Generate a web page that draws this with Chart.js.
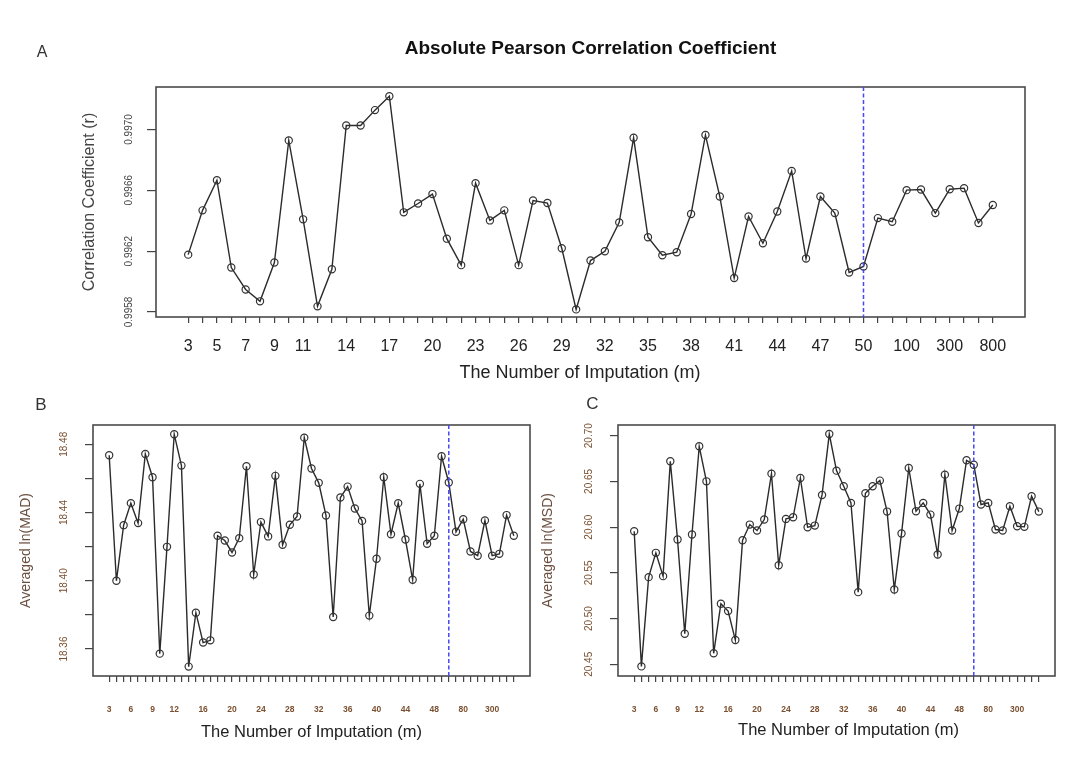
<!DOCTYPE html>
<html>
<head>
<meta charset="utf-8">
<script src="https://cdn.jsdelivr.net/npm/chart.js@4.4.0/dist/chart.umd.min.js"></script>
<style>
  body { margin: 0; background: #fff; }
  #wrap { position: relative; width: 1091px; height: 781px; overflow: hidden; }
  canvas { position: absolute; }
</style>
</head>
<body>
<div id="wrap">
  <canvas id="chartA" width="1091" height="390" style="left:0;top:0"></canvas>
  <canvas id="chartB" width="545" height="401" style="left:0;top:380px"></canvas>
  <canvas id="chartC" width="561" height="401" style="left:530px;top:380px"></canvas>
</div>
<script>
// number of imputations (x categories)
const mValues = [3, 4, 5, 6, 7, 8, 9, 10, 11, 12, 13, 14, 15, 16, 17, 18, 19, 20, 21, 22,
  23, 24, 25, 26, 27, 28, 29, 30, 31, 32, 33, 34, 35, 36, 37, 38, 39, 40, 41, 42,
  43, 44, 45, 46, 47, 48, 49, 50, 60, 80, 100, 150, 200, 300, 400, 500, 800];
const cutoffM = 50;

// x labels R kept on each axis
const xLabelsA = [3, 5, 7, 9, 11, 14, 17, 20, 23, 26, 29, 32, 35, 38, 41, 44, 47, 50, 100, 300, 800];
const xLabelsBC = [3, 6, 9, 12, 16, 20, 24, 28, 32, 36, 40, 44, 48, 80, 300];

// A: absolute Pearson correlation
const corrA = [0.996177, 0.996468, 0.996666, 0.996092, 0.995948, 0.995870, 0.996125, 0.996928, 0.996409, 0.995837,
  0.996081, 0.997026, 0.997026, 0.997127, 0.997218, 0.996455, 0.996513, 0.996575, 0.996282, 0.996108,
  0.996647, 0.996402, 0.996468, 0.996108, 0.996533, 0.996516, 0.996219, 0.995817, 0.996138, 0.996199,
  0.996389, 0.996945, 0.996291, 0.996173, 0.996193, 0.996444, 0.996963, 0.996559, 0.996023, 0.996428,
  0.996252, 0.996461, 0.996727, 0.996151, 0.996559, 0.996450, 0.996060, 0.996099, 0.996417, 0.996393,
  0.996601, 0.996605, 0.996450, 0.996607, 0.996614, 0.996385, 0.996503];

// B: averaged ln(MAD)
const madB = [18.4736, 18.4000, 18.4326, 18.4455, 18.4338, 18.4743, 18.4607, 18.3573, 18.4199, 18.4859,
  18.4675, 18.3497, 18.3813, 18.3638, 18.3651, 18.4264, 18.4236, 18.4166, 18.4250, 18.4671,
  18.4037, 18.4344, 18.4260, 18.4615, 18.4211, 18.4328, 18.4377, 18.4839, 18.4658, 18.4574,
  18.4383, 18.3788, 18.4488, 18.4552, 18.4424, 18.4351, 18.3796, 18.4129, 18.4607, 18.4273,
  18.4455, 18.4242, 18.4006, 18.4568, 18.4217, 18.4264, 18.4730, 18.4576, 18.4287, 18.4361,
  18.4172, 18.4147, 18.4353, 18.4147, 18.4158, 18.4385, 18.4264];

// C: averaged ln(MSD)
const msdC = [20.5955, 20.4477, 20.5453, 20.5719, 20.5464, 20.6720, 20.5864, 20.4834, 20.5919, 20.6884,
  20.6501, 20.4620, 20.5162, 20.5082, 20.4765, 20.5857, 20.6028, 20.5963, 20.6083, 20.6585,
  20.5584, 20.6090, 20.6108, 20.6538, 20.5999, 20.6017, 20.6352, 20.7018, 20.6618, 20.6447,
  20.6265, 20.5289, 20.6370, 20.6447, 20.6509, 20.6170, 20.5318, 20.5930, 20.6647, 20.6174,
  20.6265, 20.6137, 20.5700, 20.6574, 20.5963, 20.6203, 20.6731, 20.6683, 20.6247, 20.6265,
  20.5974, 20.5963, 20.6228, 20.6010, 20.6003, 20.6338, 20.6170];

// y ticks and the ones that get a label
const yTicksA = [0.9958, 0.9960, 0.9962, 0.9964, 0.9966, 0.9968, 0.9970, 0.9972];
const yLabelsA = [0.9958, 0.9962, 0.9966, 0.9970];
const yTicksB = [18.36, 18.38, 18.40, 18.42, 18.44, 18.46, 18.48];
const yLabelsB = [18.36, 18.40, 18.44, 18.48];
const yTicksC = [20.45, 20.50, 20.55, 20.60, 20.65, 20.70];
const yLabelsC = [20.45, 20.50, 20.55, 20.60, 20.65, 20.70];

const FONT = "'Liberation Sans', Arial, sans-serif";
const near = (list, v) => list.some(t => Math.abs(t - v) < 1e-7);

function panelPlugin(p) {
  return {
    id: 'panel' + p.letter,
    afterDatasetsDraw(chart) {
      const { ctx, chartArea: a, scales } = chart;
      // R box
      ctx.save();
      ctx.strokeStyle = '#4a4a4a';
      ctx.lineWidth = 1.6;
      ctx.strokeRect(a.left, a.top, a.right - a.left, a.bottom - a.top);
      // cutoff line
      const xc = scales.x.getPixelForValue(mValues.indexOf(cutoffM));
      ctx.strokeStyle = '#4747f5';
      ctx.lineWidth = 1.5;
      ctx.setLineDash([4, 2.5]);
      ctx.beginPath();
      ctx.moveTo(xc, a.top);
      ctx.lineTo(xc, a.bottom);
      ctx.stroke();
      ctx.setLineDash([]);
      // texts
      ctx.textAlign = 'center';
      ctx.textBaseline = 'middle';
      ctx.fillStyle = '#333';
      ctx.font = p.letterSize + 'px ' + FONT;
      ctx.fillText(p.letter, p.letterX, p.letterY);
      if (p.title) {
        ctx.fillStyle = '#111';
        ctx.font = 'bold 19px ' + FONT;
        ctx.fillText(p.title, p.titleX, p.titleY);
      }
      ctx.fillStyle = '#222';
      ctx.font = p.xTitleSize + 'px ' + FONT;
      ctx.fillText('The Number of Imputation (m)', p.xTitleX, p.xTitleY);
      ctx.restore();
    }
  };
}

function makeChart(id, values, p) {
  const points = values.map((v, i) => ({ x: i, y: v }));
  return new Chart(document.getElementById(id), {
    type: 'line',
    data: {
      datasets: [{
        data: points,
        borderColor: '#2b2b2b',
        borderWidth: 1.4,
        pointRadius: 3.6,
        pointBorderWidth: 1.2,
        pointBorderColor: '#333',
        pointBackgroundColor: 'rgba(0,0,0,0)',
        tension: 0
      }]
    },
    options: {
      responsive: false,
      animation: false,
      devicePixelRatio: 1,
      layout: { padding: { left: 0, top: p.top, right: p.right, bottom: 0 } },
      plugins: { legend: { display: false }, tooltip: { enabled: false } },
      scales: {
        x: {
          type: 'linear',
          min: -2.24,
          max: mValues.length - 1 + 2.24,
          afterBuildTicks: s => { s.ticks = mValues.map((m, i) => ({ value: i })); },
          afterFit: s => { s.height = p.xAxisH; },
          grid: { drawOnChartArea: false, tickLength: 6, color: '#444', lineWidth: 1.2 },
          border: { display: false },
          ticks: {
            autoSkip: false,
            maxRotation: 0,
            padding: p.xPad,
            color: p.xTickColor,
            font: { family: FONT, size: p.xTickSize, weight: p.xTickWeight },
            callback: v => (p.xLabels.includes(mValues[v]) ? String(mValues[v]) : '')
          }
        },
        y: {
          min: p.yMin,
          max: p.yMax,
          afterBuildTicks: s => { s.ticks = p.yTicks.map(v => ({ value: v })); },
          afterFit: s => { s.width = p.yAxisW; },
          grid: { drawOnChartArea: false, tickLength: p.yTickLen, color: '#444', lineWidth: 1.2 },
          border: { display: false },
          title: {
            display: true,
            text: p.yTitle,
            color: p.yTitleColor,
            font: { family: FONT, size: p.yTitleSize },
            padding: { top: p.yTitlePad, bottom: 0 }
          },
          ticks: {
            minRotation: 90,
            maxRotation: 90,
            crossAlign: 'center',
            padding: p.yPad,
            color: p.yTickColor,
            font: { family: FONT, size: p.yTickSize },
            callback: v => (near(p.yLabels, v) ? v.toFixed(p.dec) : '')
          }
        }
      }
    },
    plugins: [panelPlugin(p)]
  });
}

makeChart('chartA', corrA, {
  letter: 'A', letterX: 42, letterY: 53, letterSize: 16,
  title: 'Absolute Pearson Correlation Coefficient', titleX: 590.5, titleY: 49,
  xTitleX: 580, xTitleY: 373, xTitleSize: 18,
  top: 87, right: 66, xAxisH: 73, yAxisW: 156,
  xLabels: xLabelsA, xPad: 14, xTickColor: '#222', xTickSize: 16, xTickWeight: 'normal',
  yMin: 0.995767, yMax: 0.997279, yTicks: yTicksA, yLabels: yLabelsA, dec: 4,
  yTickLen: 9, yPad: 2, yTickColor: '#444', yTickSize: 10,
  yTitle: 'Correlation Coefficient (r)', yTitleColor: '#444', yTitleSize: 16, yTitlePad: 80
});

makeChart('chartB', madB, {
  letter: 'B', letterX: 41, letterY: 25, letterSize: 17,
  xTitleX: 311.5, xTitleY: 352, xTitleSize: 16.5,
  top: 45, right: 15, xAxisH: 105, yAxisW: 93,
  xLabels: xLabelsBC, xPad: 23, xTickColor: '#7a5030', xTickSize: 8.5, xTickWeight: 'bold',
  yMin: 18.3442, yMax: 18.4913, yTicks: yTicksB, yLabels: yLabelsB, dec: 2,
  yTickLen: 8, yPad: 8, yTickColor: '#7a5030', yTickSize: 10,
  yTitle: 'Averaged ln(MAD)', yTitleColor: '#6b5040', yTitleSize: 14, yTitlePad: 17.6
});

makeChart('chartC', msdC, {
  letter: 'C', letterX: 62.5, letterY: 24, letterSize: 17,
  xTitleX: 318.6, xTitleY: 350, xTitleSize: 16.5,
  top: 45, right: 36, xAxisH: 105, yAxisW: 88,
  xLabels: xLabelsBC, xPad: 23, xTickColor: '#7a5030', xTickSize: 8.5, xTickWeight: 'bold',
  yMin: 20.4372, yMax: 20.7117, yTicks: yTicksC, yLabels: yLabelsC, dec: 2,
  yTickLen: 8, yPad: 8, yTickColor: '#7a5030', yTickSize: 10,
  yTitle: 'Averaged ln(MSD)', yTitleColor: '#6b5040', yTitleSize: 14, yTitlePad: 9.6
});
</script>
</body>
</html>
